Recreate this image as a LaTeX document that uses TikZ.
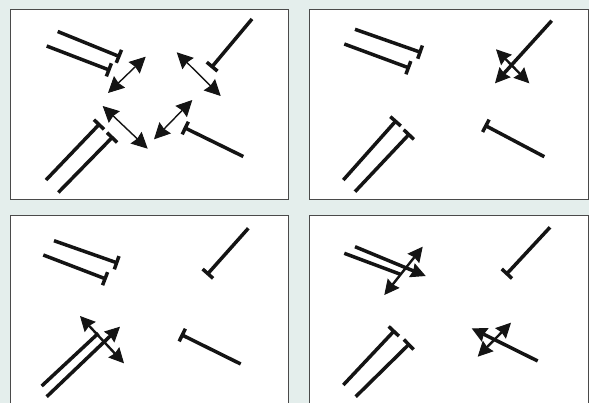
\documentclass[tikz,border=0pt]{standalone}
\usetikzlibrary{arrows.meta}
\definecolor{pagebg}{HTML}{E4EEEC}
\definecolor{framegray}{HTML}{4A4A4A}
\definecolor{ink}{HTML}{141414}
\begin{document}
\begin{tikzpicture}
  [x=1pt,y=-1pt,color=ink,
   blunt/.style={line width=3.5pt,-{Bar[width=14pt]}},
   bare/.style={line width=3.5pt},
   swap/.style={line width=1.4pt,
     {Stealth[length=16pt,width=16pt,inset=1.5pt,line width=1pt]}-{Stealth[length=16pt,width=16pt,inset=1.5pt,line width=1pt]}},
   push/.style={line width=3.5pt,-{Stealth[length=15pt,width=15pt,inset=1.5pt,line width=1pt]}},
   spread/.style={line width=2.4pt,
     {Stealth[length=15pt,width=15pt,inset=1.5pt,line width=1pt]}-{Stealth[length=15pt,width=15pt,inset=1.5pt,line width=1pt]}},
   panel/.style={draw=framegray,fill=white,line width=1pt}]

  \fill[pagebg] (0,0) rectangle (589,403);
  \useasboundingbox (0,0) rectangle (589,403);
  \clip (0,0) rectangle (589,403);

  \draw[panel] (10,9.5) rectangle (288.5,199.5);
  \draw[panel] (309,9.5) rectangle (588,199.5);
  \draw[panel] (10,216) rectangle (288.5,420);
  \draw[panel] (309,216) rectangle (588,420);

  % top left: all ends blocked, exchange arrows
  \begin{scope}[shift={(10,9.5)}]
    \coordinate (a1) at (47.7,22);  \coordinate (a1e) at (110.5,47.5);
    \coordinate (a2) at (36.7,36.5); \coordinate (a2e) at (100.5,61);
    \coordinate (b)  at (242,9.5);   \coordinate (be)  at (201,58.5);
    \coordinate (c1) at (36,170.5);  \coordinate (c1e) at (90.2,113.8);
    \coordinate (c2) at (48.3,183);  \coordinate (c2e) at (103.3,126.8);
    \coordinate (d)  at (233.3,147); \coordinate (de)  at (173.7,117.8);

    \foreach \from/\to in {a1/a1e,a2/a2e,b/be,c1/c1e,c2/c2e,d/de}
      \draw[blunt] (\from) -- (\to);

    \coordinate (ra) at (98,83.5);   \coordinate (rae) at (135.7,47.2);
    \coordinate (rb) at (166.7,42.8); \coordinate (rbe) at (210.7,86.5);
    \coordinate (rc) at (92.7,96.5);  \coordinate (rce) at (137.7,139.2);
    \coordinate (rd) at (144,129.8);  \coordinate (rde) at (182.3,90.5);

    \foreach \from/\to in {ra/rae,rb/rbe,rc/rce,rd/rde}
      \draw[swap] (\from) -- (\to);
  \end{scope}

  % top right
  \begin{scope}[shift={(309,9.5)}]
    \coordinate (a1) at (46,19.8);   \coordinate (a1e) at (112.7,43.2);
    \coordinate (a2) at (35.3,34.5); \coordinate (a2e) at (101,58.8);
    \coordinate (c1) at (34.3,170.5); \coordinate (c1e) at (87.7,110.5);
    \coordinate (c2) at (46,182.2);  \coordinate (c2e) at (101,123.8);
    \coordinate (d)  at (235.3,147.2); \coordinate (de) at (175.3,115.5);

    \foreach \from/\to in {a1/a1e,a2/a2e,c1/c1e,c2/c2e,d/de}
      \draw[blunt] (\from) -- (\to);

    \coordinate (b)  at (242.7,11.2); \coordinate (be)  at (186,73.8);
    \coordinate (xb) at (187,39.8);   \coordinate (xbe) at (220.3,73.8);
    \draw[push] (b) -- (be);
    \draw[spread] (xb) -- (xbe);
  \end{scope}

  % bottom left
  \begin{scope}[shift={(10,216)}]
    \coordinate (a1) at (44,24.7);   \coordinate (a1e) at (108.3,47.3);
    \coordinate (a2) at (33.3,39);   \coordinate (a2e) at (96.7,63.3);
    \coordinate (b)  at (238.3,12.3); \coordinate (be) at (196.7,59);
    \coordinate (d)  at (230.7,148); \coordinate (de)  at (170.7,118.3);

    \foreach \from/\to in {a1/a1e,a2/a2e,b/be,d/de}
      \draw[blunt] (\from) -- (\to);

    \coordinate (c1) at (31.7,170);  \coordinate (c1e) at (88.3,117.3);
    \coordinate (c2) at (36.7,180.7); \coordinate (c2e) at (110,110.7);
    \coordinate (xc) at (70,100);    \coordinate (xce) at (114,147.3);
    \draw[bare] (c1) -- (c1e);
    \draw[push] (c2) -- (c2e);
    \draw[spread] (xc) -- (xce);
  \end{scope}

  % bottom right
  \begin{scope}[shift={(309,216)}]
    \coordinate (b)  at (241,11.3);  \coordinate (be)  at (196.7,59);
    \coordinate (c1) at (34.3,169);  \coordinate (c1e) at (86,114);
    \coordinate (c2) at (46.7,180.7); \coordinate (c2e) at (101,127.3);

    \foreach \from/\to in {b/be,c1/c1e,c2/c2e}
      \draw[blunt] (\from) -- (\to);

    \coordinate (a1) at (46,30.7);   \coordinate (a1e) at (116.7,60);
    \coordinate (a2) at (35.3,37.3); \coordinate (a2e) at (91.7,58.4);
    \coordinate (xa) at (75.3,79);   \coordinate (xae) at (113.7,30.7);
    \draw[push] (a1) -- (a1e);
    \draw[bare] (a2) -- (a2e);
    \draw[spread] (xa) -- (xae);

    \coordinate (d)  at (228.7,145); \coordinate (de)  at (162.7,112.3);
    \coordinate (xd) at (168.7,140.7); \coordinate (xde) at (202,106.7);
    \draw[push] (d) -- (de);
    \draw[spread] (xd) -- (xde);
  \end{scope}
\end{tikzpicture}
\end{document}
